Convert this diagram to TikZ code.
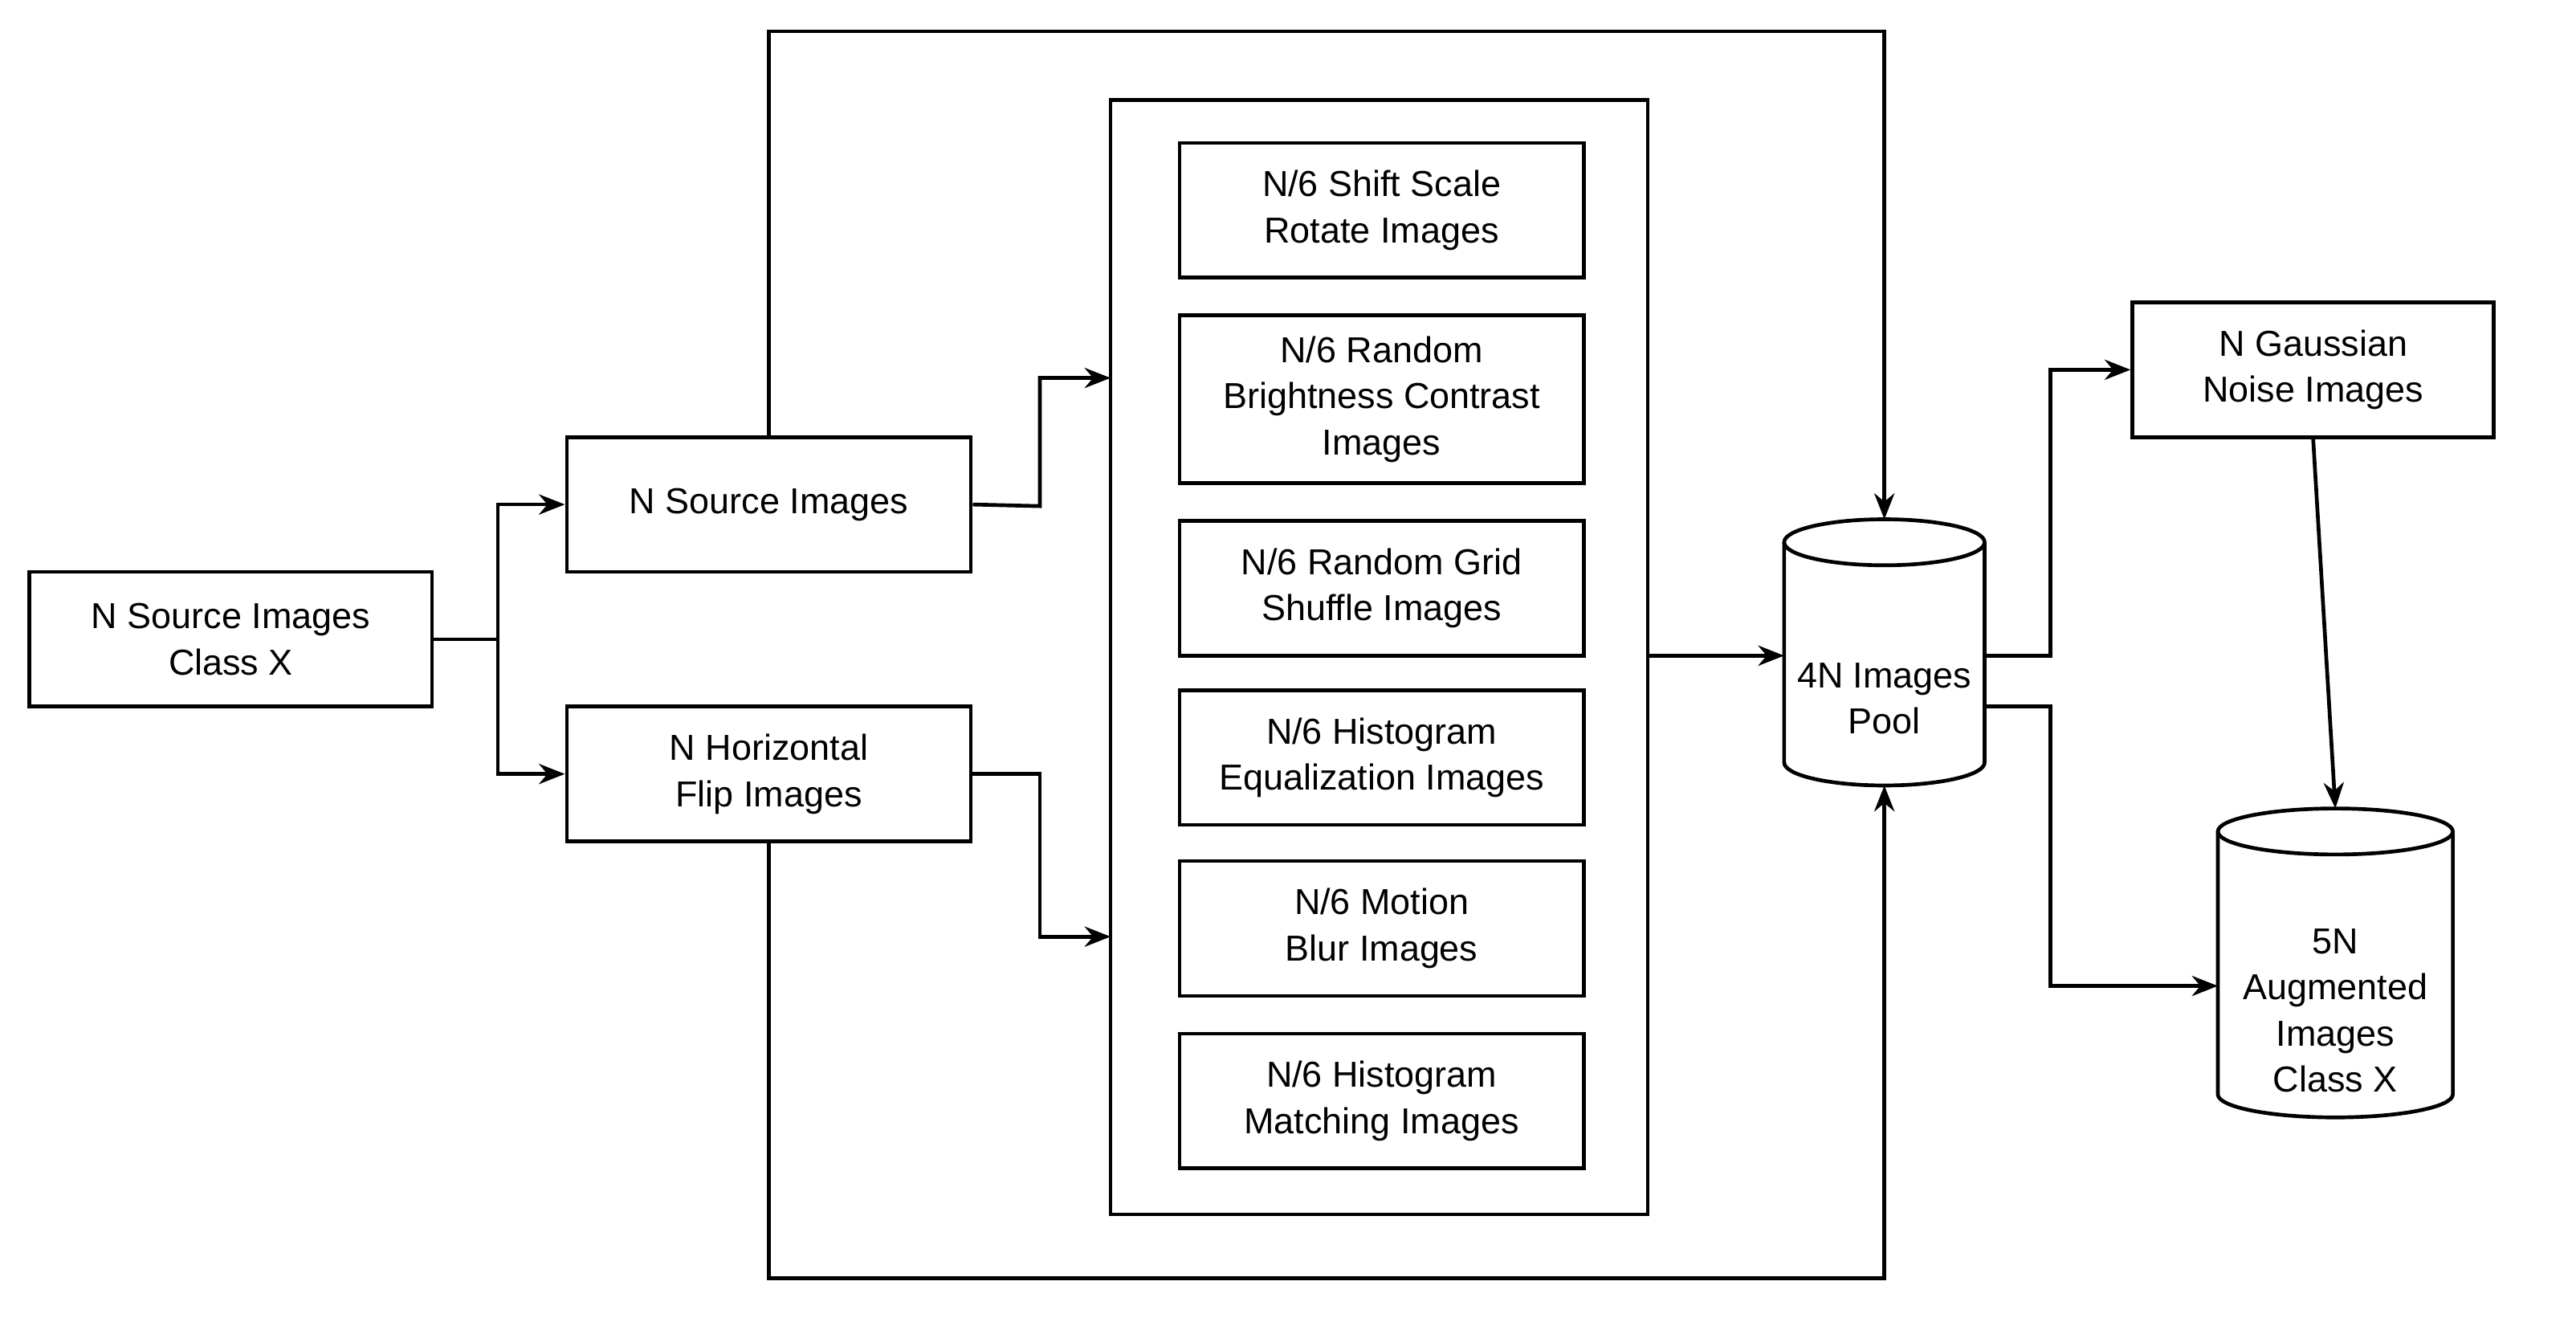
\documentclass[tikz,border=0pt]{standalone}
\usepackage{fontspec}
\setmainfont{Liberation Sans}
\usetikzlibrary{arrows.meta}
\begin{document}
\begin{tikzpicture}[x=0.02cm,y=-0.02cm,
  box/.style={draw,line width=1.3pt,align=center,font=\fontsize{12.5}{16}\selectfont,inner sep=0pt},
  ln/.style={line width=1.3pt},
  ar/.style={line width=1.3pt,-{Stealth[length=9pt,width=7pt]}}]
\useasboundingbox (0,0) rectangle (1568,802);
\newcommand{\bx}[5]{\node[box,minimum width={(#3-#2)*0.02cm},minimum height={(#5-#4)*0.02cm}] (#1) at ({(#2+#3)/2},{(#4+#5)/2})}
\bx{src}{18}{263}{348}{430} {N Source Images\\Class X};
\bx{ns}{345}{591}{266}{348} {N Source Images};
\bx{hf}{345}{591}{430}{512} {N Horizontal\\Flip Images};
\bx{inner}{676}{1003}{61}{739} {};
\bx{a}{718}{964}{87}{169} {N/6 Shift Scale\\Rotate Images};
\bx{b}{718}{964}{192}{294} {N/6 Random\\Brightness Contrast\\Images};
\bx{c}{718}{964}{317}{399} {N/6 Random Grid\\Shuffle Images};
\bx{d}{718}{964}{420}{502} {N/6 Histogram\\Equalization Images};
\bx{e}{718}{964}{524}{606} {N/6 Motion\\Blur Images};
\bx{f}{718}{964}{629}{711} {N/6 Histogram\\Matching Images};
\bx{gn}{1298}{1518}{184}{266} {N Gaussian\\Noise Images};
% cylinders
\draw[ln] (1086,330) -- (1086,464) arc[start angle=180,end angle=360,x radius=61,y radius=-14] -- (1208,330);
\draw[ln] (1147,330) ellipse[x radius=61,y radius=14];
\node[font=\fontsize{12.5}{16}\selectfont,align=center] (pool) at (1147,425) {4N Images\\Pool};
\coordinate (pooltop) at (1147,316);
\coordinate (poolbot) at (1147,478);
\draw[ln] (1350,506) -- (1350,666) arc[start angle=180,end angle=360,x radius=71.5,y radius=-14] -- (1493,506);
\draw[ln] (1421.5,506) ellipse[x radius=71.5,y radius=14];
\node[font=\fontsize{12.5}{16}\selectfont,align=center] (aug) at (1421.5,615) {5N\\Augmented\\Images\\Class X};
\coordinate (augtop) at (1421.5,492);
% connectors
\draw[ln] (src.east) -- (303,389);
\draw[ar] (303,389) |- (ns.west);
\draw[ar] (303,389) |- (hf.west);
\draw[ar] (ns.east) -- (633,308) |- (676,230);
\draw[ar] (hf.east) -- (633,471) |- (676,570);
\draw[ar] (ns.north) -- (468,19) -- (1147,19) -- (pooltop);
\draw[ar] (hf.south) -- (468,778) -- (1147,778) -- (poolbot);
\draw[ar] (1003,399) -- (1086,399);
\draw[ar] (1208,399) -- (1248,399) |- (gn.west);
\draw[ar] (1208,430) -- (1248,430) |- (1350,600);
\draw[ar] (gn.south) -- (augtop);
\end{tikzpicture}
\end{document}
